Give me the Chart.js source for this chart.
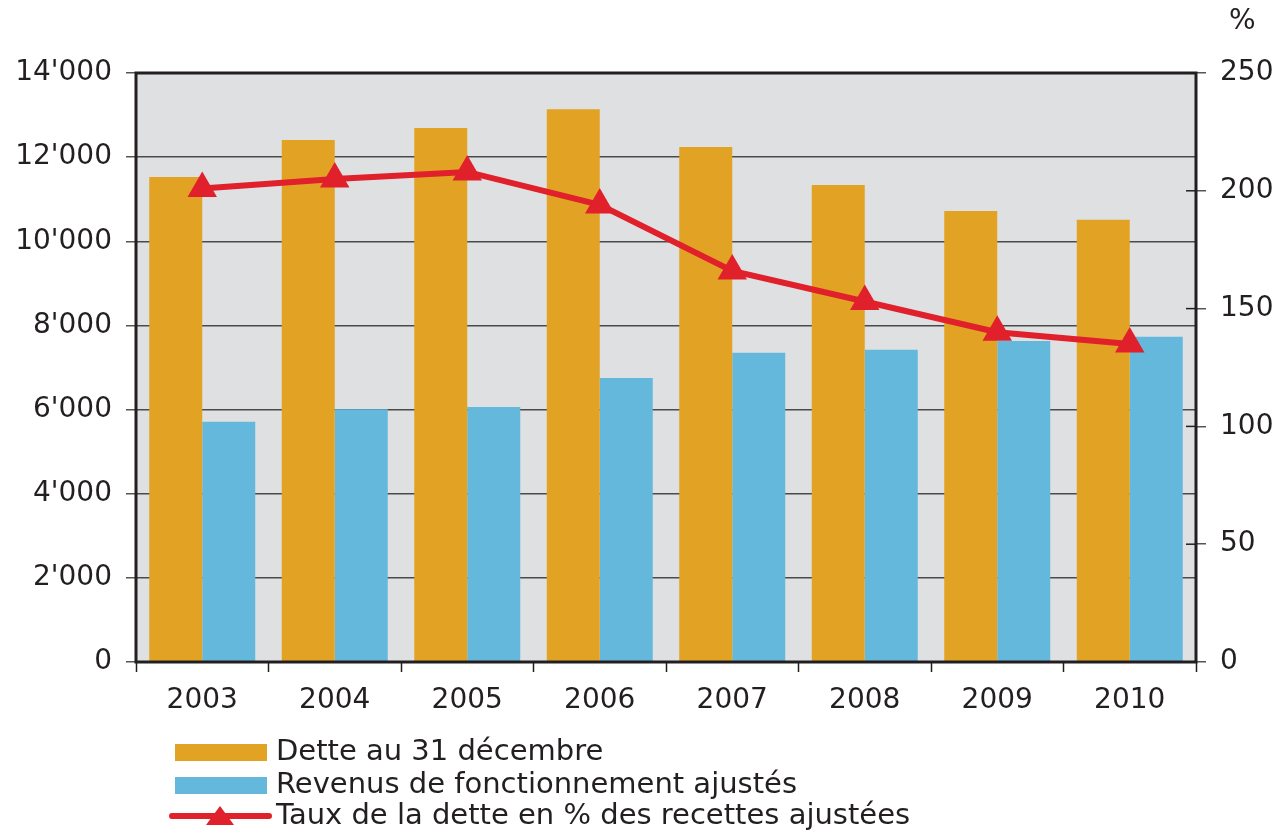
<!DOCTYPE html>
<html lang="fr">
<head>
<meta charset="UTF-8">
<title>Dette et revenus</title>
<script src="https://cdn.jsdelivr.net/npm/chart.js@4"></script>
<style>
  html, body { margin: 0; padding: 0; background: #fff; }
  #wrap { width: 1279px; height: 832px; }
</style>
</head>
<body>
<div id="wrap"><canvas id="chart"></canvas></div>
<script>
const years = ['2003', '2004', '2005', '2006', '2007', '2008', '2009', '2010'];
const dette = [11530, 12410, 12690, 13140, 12240, 11340, 10720, 10510];
const revenus = [5710, 6010, 6060, 6750, 7350, 7420, 7630, 7730];
const taux = [201, 205, 208, 194, 166, 153, 140, 135];

const ORANGE = '#e2a325';
const BLUE = '#63b8dc';
const RED = '#e0202a';
const FONT = '"DejaVu Sans", "Liberation Sans", Arial, sans-serif';
const FSIZE = 28;
const LEG_SIZE = 29;
const TXT = '#231f20';

function fmt(v) {
  return String(v).replace(/\B(?=(\d{3})+(?!\d))/g, "'");
}

// grey plot background + heavy frame
const framePlugin = {
  id: 'frame',
  beforeDraw(chart) {
    const a = chart.chartArea, c = chart.ctx;
    c.save();
    c.fillStyle = '#dfe0e2';
    c.fillRect(a.left, a.top, a.right - a.left, a.bottom - a.top);
    c.restore();
  },
  afterDatasetsDraw(chart) {
    const a = chart.chartArea, c = chart.ctx;
    c.save();
    c.strokeStyle = '#231f20';
    c.lineWidth = 3;
    c.strokeRect(a.left, a.top, a.right - a.left, a.bottom - a.top);
    // right axis ticks also cross inside the frame
    const y2 = chart.scales.y2;
    c.lineWidth = 1.5;
    y2.ticks.forEach(t => {
      const y = y2.getPixelForValue(t.value);
      c.beginPath();
      c.moveTo(a.right - 10, y);
      c.lineTo(a.right, y);
      c.stroke();
    });
    // % unit label
    c.fillStyle = TXT;
    c.font = FSIZE + 'px ' + FONT;
    c.textAlign = 'left';
    c.textBaseline = 'middle';
    c.fillText('%', 1229, 22);
    c.restore();
  }
};

// stacked legend under the x axis
const legendPlugin = {
  id: 'stackLegend',
  afterDraw(chart) {
    const c = chart.ctx;
    const items = [
      { label: chart.data.datasets[1].label, type: 'box', color: ORANGE, y: 752 },
      { label: chart.data.datasets[2].label, type: 'box', color: BLUE, y: 785 },
      { label: chart.data.datasets[0].label, type: 'line', color: RED, y: 816 }
    ];
    c.save();
    c.font = LEG_SIZE + 'px ' + FONT;
    c.textBaseline = 'middle';
    c.textAlign = 'left';
    items.forEach(it => {
      if (it.type === 'box') {
        c.fillStyle = it.color;
        c.fillRect(175, it.y - 8, 92, 17);
      } else {
        c.strokeStyle = it.color;
        c.lineWidth = 6;
        c.lineCap = 'round';
        c.beginPath();
        c.moveTo(172, it.y);
        c.lineTo(269, it.y);
        c.stroke();
        c.fillStyle = it.color;
        c.beginPath();
        c.moveTo(220, it.y - 10);
        c.lineTo(234, it.y + 9);
        c.lineTo(206, it.y + 9);
        c.closePath();
        c.fill();
      }
      c.fillStyle = TXT;
      c.fillText(it.label, 276, it.y);
    });
    c.restore();
  }
};

new Chart(document.getElementById('chart'), {
  type: 'bar',
  data: {
    labels: years,
    datasets: [
      {
        type: 'line',
        label: 'Taux de la dette en % des recettes ajustées',
        data: taux,
        yAxisID: 'y2',
        borderColor: RED,
        backgroundColor: RED,
        borderWidth: 6,
        pointStyle: 'triangle',
        pointRadius: 17,
        pointBorderWidth: 0,
        tension: 0,
        order: 0
      },
      {
        label: 'Dette au 31 décembre',
        data: dette,
        yAxisID: 'y',
        backgroundColor: ORANGE,
        categoryPercentage: 0.8,
        barPercentage: 1.0,
        order: 1
      },
      {
        label: 'Revenus de fonctionnement ajustés',
        data: revenus,
        yAxisID: 'y',
        backgroundColor: BLUE,
        categoryPercentage: 0.8,
        barPercentage: 1.0,
        order: 2
      }
    ]
  },
  options: {
    responsive: true,
    maintainAspectRatio: false,
    animation: false,
    layout: { padding: { top: 73, left: 0, right: 0, bottom: 0 } },
    plugins: {
      legend: { display: false },
      tooltip: { enabled: false }
    },
    scales: {
      x: {
        grid: {
          offset: true,
          drawOnChartArea: false,
          tickLength: 10,
          tickColor: '#231f20',
          tickWidth: 1.5
        },
        border: { display: false },
        ticks: { color: TXT, font: { family: FONT, size: FSIZE }, padding: 12 },
        afterFit(s) { s.height = 170; }
      },
      y: {
        position: 'left',
        min: 0,
        max: 14000,
        ticks: {
          stepSize: 2000,
          color: TXT,
          font: { family: FONT, size: FSIZE },
          padding: 14,
          callback: v => fmt(v)
        },
        grid: {
          color: '#4a4a4a',
          lineWidth: 1.5,
          tickLength: 10,
          tickColor: '#555'
        },
        border: { display: false },
        afterFit(s) { s.width = 136; }
      },
      y2: {
        position: 'right',
        min: 0,
        max: 250,
        ticks: {
          stepSize: 50,
          color: TXT,
          font: { family: FONT, size: FSIZE },
          padding: 14
        },
        grid: {
          drawOnChartArea: false,
          tickLength: 10,
          tickColor: '#555',
          lineWidth: 1.5
        },
        border: { display: false },
        afterFit(s) { s.width = 83; }
      }
    }
  },
  plugins: [framePlugin, legendPlugin]
});
</script>
</body>
</html>
